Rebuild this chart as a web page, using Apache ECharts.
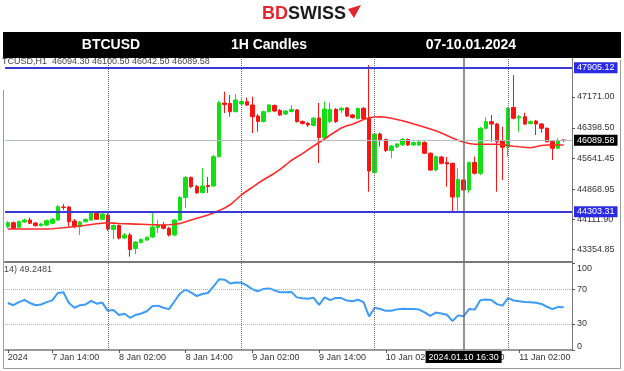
<!DOCTYPE html>
<html><head><meta charset="utf-8">
<script src="https://cdn.jsdelivr.net/npm/echarts@6/dist/echarts.min.js"></script>
<style>html,body{margin:0;padding:0;background:#fff}#c{width:624px;height:371px}</style>
</head><body><div id="c"></div>
<script>
// ---------- DATA ----------
const symbolName = 'TCUSD,H1';
const bannerTexts = ['BTCUSD', '1H Candles', '07-10.01.2024'];

// hourly candles, 7 Jan 06:00 -> 11 Jan 10:00 (+1 empty slot on the right)
const categories = [];
for (let i = 0; i < 102; i++) {
  const h = 6 + i;
  categories.push((7 + Math.floor(h / 24)) + ' Jan ' + String(h % 24).padStart(2, '0') + ':00');
}

const opens = [43929,44029,43914,44046,44096,44021,43954,43971,44014,44096,
44421,44421,44071,43929,44054,44096,44264,44114,44221,43859,
43959,43646,43721,43384,43534,43596,43671,43909,43971,43889,
43721,44096,44659,45159,44929,44784,44959,44946,45679,47021,
47009,46804,46996,47054,46971,46696,46559,46804,46959,46834,
46746,46809,46846,46559,46514,46459,46646,46159,46559,46859,
46846,46896,46721,46634,46889,46634,45284,46246,46109,45834,
45934,45984,46109,45971,45971,46034,45764,45346,45671,45534,
45509,44671,45096,44846,45534,45264,46389,46554,46496,46084,
45914,46909,46646,46679,46509,46571,46496,46389,46054,45889,
46094.30];
const closes = [44029,43889,44054,44096,44014,43954,43996,44079,44114,44429,
44409,44054,43929,44046,44114,44264,44114,44246,43871,43959,
43646,43721,43359,43546,43609,43659,43921,43971,43889,43721,
44096,44659,45159,44929,44779,44946,44934,45679,47029,46984,
46804,47096,47059,46971,46679,46559,46804,46971,46821,46721,
46821,46859,46554,46509,46471,46639,46159,46871,46859,46559,
46889,46696,46659,46884,46634,45321,46246,46109,45834,45946,
45996,46109,45971,46034,46046,45764,45346,45679,45514,45496,
44671,45109,44846,45534,45264,46389,46554,46496,46054,45914,
46889,46639,46679,46496,46554,46496,46389,46054,45889,46084,
46089.58];
const lows = [43884,43871,43896,44021,43996,43934,43934,43946,43996,44071,
44346,43929,43889,43721,44034,44071,44096,44096,43821,43621,
43609,43621,43179,43246,43509,43571,43646,43771,43859,43684,
43696,44071,44396,44896,44746,44759,44771,44921,45659,46771,
46679,46784,46971,46946,46271,46304,46534,46784,46796,46696,
46721,46784,46534,46484,46421,46434,45521,46121,46521,46521,
46771,46671,46634,46609,46609,44804,45246,45929,45796,45639,
45896,45946,45946,45946,45946,45746,45321,45309,45484,44929,
44304,44304,44821,44779,45234,45221,46359,46054,44804,45096,
45679,46609,46304,46471,46484,46221,46279,46034,45596,45871,
46042.50];
const highs = [44071,44059,44084,44134,44154,44046,44021,44109,44146,44471,
44496,44446,44121,44071,44134,44296,44321,44279,44259,43984,
43984,43771,43771,43571,43634,43684,44304,44096,44046,43921,
44121,44696,45196,45184,44971,45389,45171,45721,47071,47304,
47221,47239,47096,47154,47179,46746,46834,46996,46984,46871,
46846,46971,46871,46584,46546,46671,47021,47054,47029,46896,
46921,46921,46746,46909,46921,47971,46271,46284,46134,45971,
46021,46146,46134,46059,46084,46059,45784,45709,45696,45671,
45534,45389,45121,45559,45679,46421,46664,46721,46521,46429,
46921,47721,46721,46779,46584,46596,46521,46409,46084,46139,
46100.50];
const movingAvg = [43871,43871,43871,43871,43871,43871,43871,43871,43879,43889,
43901,43916,43934,43946,43964,43984,44001,44016,44026,44019,
44009,44004,43999,43994,43989,43984,43979,43974,43971,43976,
43991,44011,44051,44096,44139,44176,44221,44271,44331,44396,
44476,44596,44721,44821,44914,45014,45101,45184,45266,45364,
45471,45584,45671,45756,45851,45946,46034,46121,46221,46309,
46396,46451,46491,46546,46609,46651,46671,46679,46664,46639,
46609,46579,46539,46496,46456,46414,46371,46326,46271,46209,
46146,46091,46046,46009,45989,45989,45989,45989,45989,45984,
45959,45939,45926,45914,45904,45926,45959,45971,45971,45971,
45971];
const rsi = [54,51.5,55,57.5,54,51.5,52.3,55,57,65.5,
66.3,54,48.6,51.5,52.4,56.5,53.2,54.5,45,46,
40.3,41.7,37,40.3,42,44.5,50.3,51,48.5,47,
56,65,69.5,66,62,64.4,65.5,73,81.2,80.8,
76.5,77.5,77.3,74.3,69.8,67.6,70.1,70.8,68.6,66.3,
66.5,66.8,60.5,59.5,59,60.2,51.8,60.4,57.3,59.9,
59.7,56.8,56.1,57.8,55,38.5,48.6,47.2,45,45.1,
46.7,47.5,47,47,46.5,43.3,39.2,43,41.9,40.5,
33.2,39.8,38.7,47.2,46.4,57.2,58.1,57.5,52.7,51,
59.7,56.9,56.1,55.1,55,54.2,52.9,49.7,47,49.5,
49.2481];

const priceMin = 43046, priceMax = 48146;
const priceTicks = [47171.00, 46398.50, 45641.45, 44868.95, 44111.90, 43354.85];
const resistance = 47905.12, support = 44303.31, lastPrice = 46089.58;
const rsiTicks = [100, 70, 30, 0];
const rsiLevels = [70, 30];
const tickIdx = [0, 8, 20, 32, 44, 56, 68, 80, 92];
const tickLabels = ['2024', '7 Jan 14:00', '8 Jan 02:00', '8 Jan 14:00', '9 Jan 02:00', '9 Jan 14:00', '10 Jan 02:00', '10 Jan 14:00', '11 Jan 02:00'];
const daySeparators = ['8 Jan 00:00', '9 Jan 00:00', '10 Jan 00:00', '11 Jan 00:00'];
const crosshair = '10 Jan 16:00';
const crosshairLabel = '2024.01.10 16:30';

// ---------- CHART ----------
const FONT = '"Liberation Sans", Arial, sans-serif';
const last = opens.length - 1;
const headerText = symbolName + '  ' + [opens[last], highs[last], lows[last], closes[last]].map(v => v.toFixed(2)).join(' ');
const dottedStyle = { color: '#6a6a6a', type: 'dotted', width: 1 };
const crossStyle = { color: '#6e6e6e', type: 'solid', width: 1.5 };
const isTick = (i) => tickIdx.indexOf(i) >= 0;

const chart = echarts.init(document.getElementById('c'));
chart.setOption({
  animation: false,
  backgroundColor: '#fff',
  grid: [
    { left: 5, top: 58, width: 567, height: 204 },
    { left: 5, top: 263, width: 567, height: 87 }
  ],
  xAxis: [
    { type: 'category', gridIndex: 0, data: categories, boundaryGap: true,
      axisLine: { show: true, lineStyle: { color: '#7a7a7a', width: 2 } },
      axisTick: { show: false }, axisLabel: { show: false }, splitLine: { show: false } },
    { type: 'category', gridIndex: 1, data: categories, boundaryGap: true,
      axisLine: { show: true, lineStyle: { color: '#7a7a7a', width: 1.5 } },
      axisTick: { show: true, alignWithLabel: true, interval: isTick, length: 3, lineStyle: { color: '#555' } },
      axisLabel: { show: true, interval: isTick, formatter: (v, i) => tickLabels[tickIdx.indexOf(i)],
        align: 'left', fontSize: 9, color: '#333', fontFamily: FONT, margin: 3 },
      splitLine: { show: false } }
  ],
  yAxis: [
    { type: 'value', gridIndex: 0, position: 'right', min: priceMin, max: priceMax,
      splitLine: { show: false },
      axisLine: { show: true, lineStyle: { color: '#7a7a7a', width: 1 } },
      axisTick: { show: true, customValues: priceTicks, length: 3, lineStyle: { color: '#555' } },
      axisLabel: { customValues: priceTicks, formatter: v => v.toFixed(2), fontSize: 9, color: '#333', fontFamily: FONT, margin: 5 } },
    { type: 'value', gridIndex: 1, position: 'right', min: 0, max: 100,
      splitLine: { show: false },
      axisLine: { show: true, lineStyle: { color: '#7a7a7a', width: 1 } },
      axisTick: { show: true, customValues: rsiTicks, length: 3, lineStyle: { color: '#555' } },
      axisLabel: { customValues: rsiTicks, fontSize: 9, color: '#333', fontFamily: FONT, margin: 5,
        formatter: v => v === 100 ? '{t|100}' : (v === 0 ? '{b|0}' : String(v)),
        rich: { t: { padding: [12, 0, 0, 0], fontSize: 9, color: '#333', fontFamily: FONT },
                b: { padding: [0, 0, 6, 0], fontSize: 9, color: '#333', fontFamily: FONT } } } }
  ],
  series: [
    { type: 'candlestick', xAxisIndex: 0, yAxisIndex: 0, barWidth: 4,
      data: opens.map((o, i) => [o, closes[i], lows[i], highs[i]]),
      itemStyle: { color: '#12e012', color0: '#ff1212', borderColor: '#12e012', borderColor0: '#ff1212', borderWidth: 1 },
      markLine: { symbol: 'none', silent: true, animation: false, label: { show: false },
        data: [
          ...daySeparators.map(c => ({ xAxis: c, lineStyle: dottedStyle })),
          { xAxis: crosshair, lineStyle: crossStyle },
          { yAxis: lastPrice, lineStyle: { color: '#b4bcc6', width: 1, type: 'solid' },
            label: { show: true, position: 'end', formatter: lastPrice.toFixed(2), color: '#fff', backgroundColor: '#000',
              padding: [1, 3, 1, 3], fontSize: 9, fontFamily: FONT, distance: 2 } },
          { yAxis: resistance, lineStyle: { color: '#3a3ad8', width: 2, type: 'solid' },
            label: { show: true, position: 'end', formatter: resistance.toFixed(2), color: '#fff', backgroundColor: '#2b2be6',
              padding: [1, 3, 1, 3], fontSize: 9, fontFamily: FONT, distance: 2 } },
          { yAxis: support, lineStyle: { color: '#3a3ad8', width: 2, type: 'solid' },
            label: { show: true, position: 'end', formatter: support.toFixed(2), color: '#fff', backgroundColor: '#2b2be6',
              padding: [1, 3, 1, 3], fontSize: 9, fontFamily: FONT, distance: 2 } }
        ] } },
    { type: 'line', xAxisIndex: 0, yAxisIndex: 0, data: movingAvg, showSymbol: false, symbol: 'none',
      lineStyle: { color: '#ff2a2a', width: 1.6 }, z: 3 },
    { type: 'line', xAxisIndex: 1, yAxisIndex: 1, data: rsi, showSymbol: false, symbol: 'none',
      lineStyle: { color: '#3d9bf5', width: 2 },
      markLine: { symbol: 'none', silent: true, animation: false, label: { show: false },
        data: [
          ...rsiLevels.map(v => ({ yAxis: v, lineStyle: { color: '#b0b0b0', type: 'dotted', width: 1 } })),
          ...daySeparators.map(c => ({ xAxis: c, lineStyle: dottedStyle })),
          { xAxis: crosshair, lineStyle: crossStyle,
            label: { show: true, position: 'start', formatter: crosshairLabel, color: '#fff', backgroundColor: '#000',
              padding: [2, 3, 1, 3], fontSize: 9, fontFamily: FONT, distance: 1 } }
        ] } }
  ],
  graphic: [
    { type: 'text', x: 2, y: 62, z: 50, style: { text: headerText, font: '9px ' + FONT, fill: '#444', textAlign: 'left', textVerticalAlign: 'middle', align: 'left', verticalAlign: 'middle' } },
    { type: 'text', x: 4, y: 270, z: 50, style: { text: '14) ' + rsi[last].toFixed(4), font: '9px ' + FONT, fill: '#444', textAlign: 'left', textVerticalAlign: 'middle', align: 'left', verticalAlign: 'middle' } },
    { type: 'rect', z: 100, shape: { x: 3, y: 32, width: 618, height: 26 }, style: { fill: '#000' } },
    { type: 'text', z: 101, x: 111, y: 45.5, style: { text: bannerTexts[0], font: 'bold 14px ' + FONT, fill: '#fff', textAlign: 'center', textVerticalAlign: 'middle', align: 'center', verticalAlign: 'middle' } },
    { type: 'text', z: 101, x: 269, y: 45.5, style: { text: bannerTexts[1], font: 'bold 14px ' + FONT, fill: '#fff', textAlign: 'center', textVerticalAlign: 'middle', align: 'center', verticalAlign: 'middle' } },
    { type: 'text', z: 101, x: 471, y: 45.5, style: { text: bannerTexts[2], font: 'bold 14px ' + FONT, fill: '#fff', textAlign: 'center', textVerticalAlign: 'middle', align: 'center', verticalAlign: 'middle' } },
    { type: 'text', z: 101, x: 262, y: 14, style: { text: 'BD', font: 'bold 18px ' + FONT, fill: '#e4262c', textAlign: 'left', textVerticalAlign: 'middle', align: 'left', verticalAlign: 'middle' } },
    { type: 'text', z: 101, x: 288, y: 14, style: { text: 'SWISS', font: 'bold 18px ' + FONT, fill: '#1a1a1a', textAlign: 'left', textVerticalAlign: 'middle', align: 'left', verticalAlign: 'middle' } },
    { type: 'polygon', z: 101, shape: { points: [[348, 9], [361, 5], [354, 18]] }, style: { fill: '#e4262c' } },
    { type: 'polyline', z: 40, shape: { points: [[3.5, 90], [3.5, 368.5], [620.5, 368.5], [620.5, 60]] }, style: { stroke: '#9a9a9a', lineWidth: 1, fill: null } }
  ]
});
</script>
</body></html>
